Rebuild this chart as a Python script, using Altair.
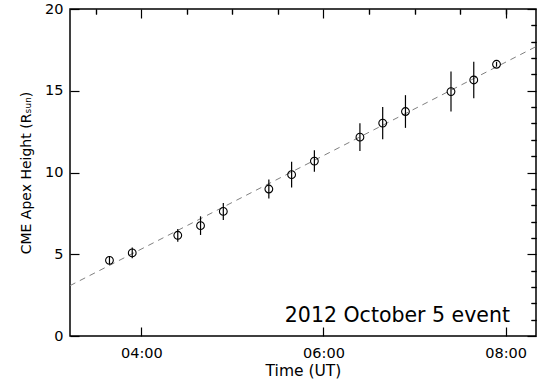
import altair as alt
import pandas as pd

# ---- data ----
obs_times = ["03:39", "03:54", "04:24", "04:39", "04:54", "05:24", "05:39",
             "05:54", "06:24", "06:39", "06:54", "07:24", "07:39", "07:54"]
heights = [4.63, 5.08, 6.16, 6.75, 7.62, 8.99, 9.87,
           10.70, 12.16, 13.02, 13.73, 14.95, 15.66, 16.62]
errors = [0.25, 0.33, 0.39, 0.57, 0.52, 0.58, 0.78,
          0.66, 0.85, 0.98, 1.00, 1.22, 1.12, 0.15]

fit_times = ["03:13", "08:20"]
fit_heights = [3.08, 17.70]

x_range = ["03:13", "08:20"]
y_range = [0, 20]
x_major = [4, 6, 8]
x_minor = [3.5, 4.5, 5, 5.5, 6.5, 7, 7.5, 8]
y_major = [0, 5, 10, 15, 20]
y_minor = [1, 2, 3, 4, 6, 7, 8, 9, 11, 12, 13, 14, 16, 17, 18, 19]
annotation = "2012 October 5 event"


def hours(s):
    h, m = s.split(":")
    return int(h) + int(m) / 60.0


df = pd.DataFrame({
    "t": [hours(s) for s in obs_times],
    "h": heights,
})
df["lo"] = df["h"] - pd.Series(errors)
df["hi"] = df["h"] + pd.Series(errors)

fit_df = pd.DataFrame({"t": [hours(s) for s in fit_times], "h": fit_heights})

xs = alt.Scale(domain=[hours(x_range[0]), hours(x_range[1])], nice=False, zero=False)
ys = alt.Scale(domain=y_range, nice=False, zero=False)

FONT = "DejaVu Sans"
label_expr = "(datum.value < 10 ? '0' : '') + datum.value + ':00'"

common = dict(domain=False, grid=False, tickColor="black", tickWidth=1.2)

base = alt.Chart(df)

# axes (inward ticks by offsetting the axis into the plot)
ax_major = base.mark_point(opacity=0).encode(
    x=alt.X("t:Q", scale=xs, axis=alt.Axis(
        values=x_major, labelExpr=label_expr, tickSize=9, offset=-9,
        labelPadding=10, labelFont=FONT, labelFontSize=14.5, labelColor="black",
        title="Time (UT)", titleFont=FONT, titleFontSize=15.5, titleFontWeight="normal",
        titleColor="black", titlePadding=4, **common)),
    y=alt.Y("h:Q", scale=ys, axis=alt.Axis(
        values=y_major, format="d", tickSize=9, offset=-9,
        labelPadding=7, labelFont=FONT, labelFontSize=14.5, labelColor="black",
        title="CME Apex Height (R\u209B\u1D64\u2099)", titleFont=FONT, titleFontSize=14,
        titleFontWeight="normal", titleColor="black", titlePadding=11, **common)),
)

ax_minor = base.mark_point(opacity=0).encode(
    x=alt.X("t:Q", scale=xs, axis=alt.Axis(
        values=x_minor, labels=False, title=None, tickSize=5, offset=-5, **common)),
    y=alt.Y("h:Q", scale=ys, axis=alt.Axis(
        values=y_minor, labels=False, title=None, tickSize=5, offset=-5, **common)),
)

ax_major_opp = base.mark_point(opacity=0).encode(
    x=alt.X("t:Q", scale=xs, axis=alt.Axis(
        orient="top", values=x_major, labels=False, title=None, tickSize=9, offset=-9, **common)),
    y=alt.Y("h:Q", scale=ys, axis=alt.Axis(
        orient="right", values=y_major, labels=False, title=None, tickSize=9, offset=-9, **common)),
)

ax_minor_opp = base.mark_point(opacity=0).encode(
    x=alt.X("t:Q", scale=xs, axis=alt.Axis(
        orient="top", values=x_minor, labels=False, title=None, tickSize=5, offset=-5, **common)),
    y=alt.Y("h:Q", scale=ys, axis=alt.Axis(
        orient="right", values=y_minor, labels=False, title=None, tickSize=5, offset=-5, **common)),
)

fit = alt.Chart(fit_df).mark_line(
    color="#808080", strokeWidth=1, strokeDash=[6, 5], clip=True
).encode(
    x=alt.X("t:Q", scale=xs, axis=None),
    y=alt.Y("h:Q", scale=ys, axis=None),
)

bars = base.mark_rule(color="black", strokeWidth=1.2).encode(
    x=alt.X("t:Q", scale=xs, axis=None),
    y=alt.Y("lo:Q", scale=ys, axis=None),
    y2="hi:Q",
)

pts = base.mark_point(shape="circle", filled=False, color="black",
                      size=60, strokeWidth=1.1, opacity=1).encode(
    x=alt.X("t:Q", scale=xs, axis=None),
    y=alt.Y("h:Q", scale=ys, axis=None),
)

txt = alt.Chart(pd.DataFrame({"label": [annotation]})).mark_text(
    font=FONT, fontSize=20.5, align="right", baseline="alphabetic", color="black"
).encode(
    x=alt.value(440), y=alt.value(312.5), text="label:N"
)

chart = alt.layer(
    ax_major, ax_minor, ax_major_opp, ax_minor_opp, fit, bars, pts, txt
).resolve_axis(
    x="independent", y="independent"
).properties(
    width=466, height=327,
    autosize=alt.AutoSizeParams(type="none"),
    padding={"left": 70, "top": 9, "right": 12, "bottom": 51},
    background="white",
).configure_view(
    stroke="black", strokeWidth=1.5
)

chart.save("out.html", embed_options={"renderer": "svg", "actions": False})
